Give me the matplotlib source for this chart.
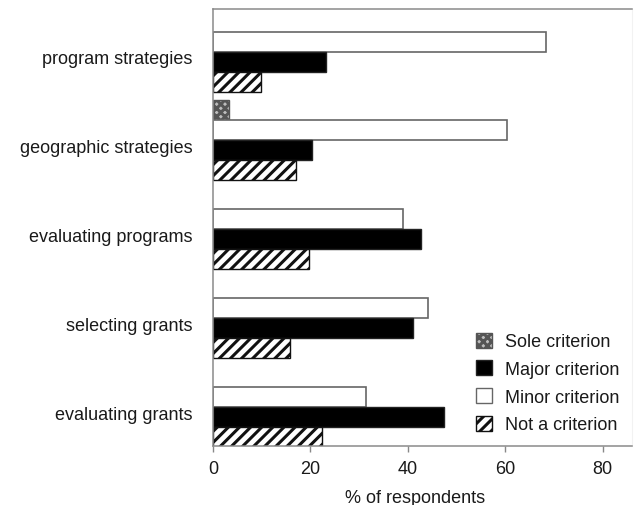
import numpy as np
import matplotlib
matplotlib.use('Agg')
import matplotlib.pyplot as plt

plt.rcParams['font.family'] = ['Liberation Sans', 'DejaVu Sans']
plt.rcParams['hatch.linewidth'] = 2.2

categories = ['program strategies', 'geographic strategies', 'evaluating programs',
              'selecting grants', 'evaluating grants']
sole = [0, 3.3, 0, 0, 0]
minor = [68.3, 60.3, 38.9, 44.1, 31.5]
major = [23.1, 20.4, 42.7, 41.1, 47.4]
not_crit = [9.8, 17.0, 19.8, 15.8, 22.4]

fig = plt.figure(figsize=(6.35, 5.06), dpi=100)
ax = fig.add_axes([213/635, 1 - 447/506, (632 - 213)/635, (447 - 10)/506])

y = np.arange(len(categories))
h = 0.225
txt = '#1a1a1a'

def edge_widths(vals, lw):
    # no outline for empty bars, otherwise they leave a stub on the axis
    return [lw if v > 0 else 0 for v in vals]

# sole slot on top, then minor, major, not a criterion
ax.barh(y - 1.5*h, sole, height=h, color='#bdbdbd', edgecolor='#555555',
        hatch='xxxx', linewidth=edge_widths(sole, 1.0), label='Sole criterion')
ax.barh(y - 0.5*h, minor, height=h, color='white', edgecolor='#666666',
        linewidth=edge_widths(minor, 1.2), label='Minor criterion')
ax.barh(y + 0.5*h, major, height=h, color='black', edgecolor='#222222',
        linewidth=edge_widths(major, 1.0), label='Major criterion')
ax.barh(y + 1.5*h, not_crit, height=h, color='white', edgecolor='#111111',
        hatch='///', linewidth=edge_widths(not_crit, 1.0), label='Not a criterion')

ax.set_xlim(0, 86)
ax.set_ylim(4 + 0.44, -0.48)
ax.set_yticks(y + 0.06)
ax.set_yticklabels(categories, fontsize=13, color=txt)
ax.tick_params(axis='y', length=0, pad=15)
ax.set_xticks([0, 20, 40, 60, 80])
ax.tick_params(axis='x', length=4, width=1, color='#888888', labelsize=13,
               labelcolor=txt, pad=6)
ax.set_xlabel('% of respondents', fontsize=13, color=txt)
ax.xaxis.set_label_coords(0.482, -0.099)

for s in ['left', 'bottom', 'top']:
    ax.spines[s].set_color('#8a8a8a')
    ax.spines[s].set_linewidth(1.1)
ax.spines['right'].set_color('#f2f2f2')
ax.spines['right'].set_linewidth(0.8)

handles, labels = ax.get_legend_handles_labels()
order = [0, 2, 1, 3]
leg = ax.legend([handles[i] for i in order], [labels[i] for i in order],
                loc='lower right', bbox_to_anchor=(1.0, 0.0), frameon=False,
                fontsize=13, handlelength=0.9, handleheight=0.9,
                handletextpad=0.7, labelspacing=0.55, borderaxespad=0.3,
                labelcolor=txt)
for p in leg.get_patches():
    p.set_linewidth(1.0)

fig.savefig('out.png', dpi=100)
